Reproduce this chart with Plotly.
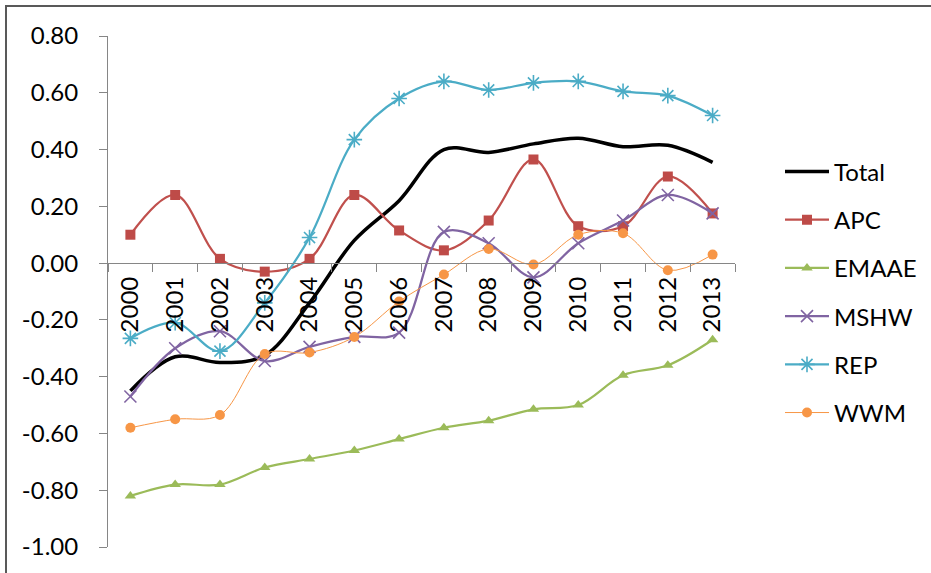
import plotly.graph_objects as go

years = [str(y) for y in range(2000, 2014)]
total = [-0.45, -0.33, -0.35, -0.325, -0.14, 0.08, 0.22, 0.40, 0.39, 0.42, 0.44, 0.41, 0.415, 0.355]
apc = [0.10, 0.24, 0.015, -0.03, 0.015, 0.24, 0.115, 0.045, 0.15, 0.365, 0.13, 0.13, 0.305, 0.175]
emaae = [-0.82, -0.78, -0.78, -0.72, -0.69, -0.66, -0.62, -0.58, -0.555, -0.515, -0.50, -0.395, -0.36, -0.27]
mshw = [-0.47, -0.30, -0.24, -0.345, -0.295, -0.26, -0.245, 0.11, 0.07, -0.05, 0.07, 0.15, 0.24, 0.175]
rep = [-0.265, -0.21, -0.31, -0.14, 0.09, 0.435, 0.58, 0.64, 0.61, 0.635, 0.64, 0.605, 0.59, 0.52]
wwm = [-0.58, -0.55, -0.535, -0.32, -0.315, -0.26, -0.135, -0.04, 0.05, -0.005, 0.10, 0.105, -0.025, 0.03]

y_ticks = [-1.0, -0.8, -0.6, -0.4, -0.2, 0.0, 0.2, 0.4, 0.6, 0.8]
y_ticktext = ["-1.00", "-0.80", "-0.60", "-0.40", "-0.20", "0.00", "0.20", "0.40", "0.60", "0.80"]

FONT = "Lato"
FS = 24
fig = go.Figure()

def add(name, vals, color, width, symbol=None, msize=0, mcolor=None, mline=0):
    mode = "lines+markers" if symbol else "lines"
    marker = dict(symbol=symbol, size=msize, color=mcolor or color,
                  line=dict(width=mline, color=mcolor or color)) if symbol else None
    fig.add_trace(go.Scatter(x=years, y=vals, name=name, mode=mode,
                             line=dict(color=color, width=width, shape="spline", smoothing=1.0),
                             marker=marker, legendgroup=name))

add("Total", total, "#000000", 3.5)
add("APC", apc, "#C0504D", 2.25, "square", 10, "#BE4B48")
add("EMAAE", emaae, "#9BBB59", 2.25, "triangle-up", 10, "#9BBB59")
add("MSHW", mshw, "#8064A2", 2.25, "x-thin-open", 12, "#8064A2", 1.6)
add("REP", rep, "#4BACC6", 2.25, "asterisk-open", 13, "#4BACC6", 1.6)
add("WWM", wwm, "#F79646", 1.0, "circle", 10, "#F79646")

PW = 627
fig.update_layout(
    width=931, height=573,
    margin=dict(l=108, r=931 - 108 - PW, t=36, b=26, autoexpand=False),
    paper_bgcolor="white", plot_bgcolor="white",
    font=dict(family=FONT, size=FS, color="#000000"),
    showlegend=True,
    legend=dict(x=(780 - 108) / PW, y=0.778, xanchor="left", yanchor="top",
                tracegroupgap=14, itemwidth=44, font=dict(size=FS), bgcolor="rgba(0,0,0,0)"),
    xaxis=dict(type="category", anchor="free", position=1/1.8, range=[-0.5, 13.5],
               showline=True, linecolor="#868686", linewidth=1,
               ticks="outside", ticklen=8, tickcolor="#868686", tickson="boundaries",
               tickangle=-90, showgrid=False, zeroline=False,
               tickfont=dict(size=FS, family=FONT), ticklabelstandoff=3),
    yaxis=dict(range=[-1, 0.8], tickmode="array", tickvals=y_ticks, ticktext=y_ticktext,
               showline=True, linecolor="#868686", linewidth=1,
               ticks="outside", ticklen=8, tickcolor="#868686",
               showgrid=False, zeroline=False, ticklabelstandoff=16,
               tickfont=dict(size=FS, family=FONT)),
    shapes=[dict(type="rect", xref="paper", yref="paper",
                 x0=-102/PW, x1=1.4, y0=-0.2, y1=1 + 30/511,
                 line=dict(color="#595959", width=2), fillcolor="rgba(0,0,0,0)", layer="below")],
)

fig.write_html("out.html")
